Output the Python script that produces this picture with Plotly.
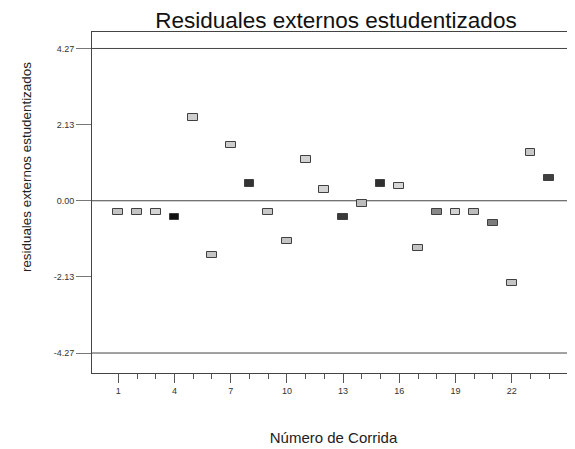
import plotly.graph_objects as go

# Data
runs = list(range(1, 25))
residuals = [-0.31, -0.31, -0.31, -0.46, 2.33, -1.52, 1.57, 0.48, -0.31, -1.13,
             1.16, 0.31, -0.46, -0.08, 0.48, 0.42, -1.33, -0.31, -0.31, -0.31,
             -0.62, -2.30, 1.35, 0.64]
y_tick_vals = [4.27, 2.13, 0.0, -2.13, -4.27]
y_tick_text = ["4.27", "2.13", "0.00", "-2.13", "-4.27"]
x_major_ticks = [1, 4, 7, 10, 13, 16, 19, 22]
x_minor_ticks = list(range(1, 25))
ref_lines = [4.27, 0.0, -4.27]

colors = ["#c4c4c4", "#c4c4c4", "#d4d4d4", "#111111", "#cfcfcf", "#c4c4c4",
          "#cccccc", "#333333", "#c8c8c8", "#c4c4c4", "#d2d2d2", "#d4d4d4",
          "#3a3a3a", "#bcbcbc", "#303030", "#d6d6d6", "#c4c4c4", "#888888",
          "#d2d2d2", "#bcbcbc", "#7c7c7c", "#c4c4c4", "#c8c8c8", "#404040"]

box_h = 0.18
fig = go.Figure()
fig.add_trace(go.Bar(
    x=runs,
    y=[box_h] * len(runs),
    base=[r - box_h / 2 for r in residuals],
    width=0.52,
    marker=dict(color=colors, line=dict(color="#404040", width=1)),
    hovertext=[f"{r:.2f}" for r in residuals],
    showlegend=False,
))

for v in ref_lines:
    fig.add_hline(y=v, line=dict(color="#444444", width=1), layer="below")

font = "Liberation Sans, Arial, sans-serif"
fig.update_layout(
    width=575, height=449,
    margin=dict(l=84, r=8, t=24, b=84),
    paper_bgcolor="white", plot_bgcolor="white",
    font=dict(family=font, color="#222222"),
    title=dict(text="Residuales externos estudentizados", x=0.505, xref="paper",
               xanchor="center",
               y=1 - 12.5 / 449, yref="container", yanchor="middle",
               font=dict(size=22.5, color="#111111", family=font)),
    bargap=0,
    annotations=[dict(text="residuales externos estudentizados", textangle=-90,
                      xref="paper", yref="paper", x=-0.1366, y=0.604,
                      xanchor="center", yanchor="middle", showarrow=False,
                      font=dict(size=13.4, color="#222222", family=font))],
)
fig.update_xaxes(
    range=[-0.404, 25.38],
    tickmode="array", tickvals=x_major_ticks,
    ticks="outside", ticklen=9, tickcolor="#555555", tickwidth=1,
    minor=dict(tickmode="array", tickvals=x_minor_ticks, ticks="outside",
               ticklen=5, tickcolor="#555555", showgrid=False),
    showline=True, linecolor="#444444", linewidth=1, mirror=True,
    showgrid=False, zeroline=False,
    tickfont=dict(size=9, color="#333333"),
    title=dict(text="Número de Corrida", font=dict(size=15, color="#222222"), standoff=37),
    automargin=False,
)
fig.update_yaxes(
    range=[-4.830, 4.732],
    tickmode="array", tickvals=y_tick_vals, ticktext=y_tick_text,
    ticks="outside", ticklen=15, tickcolor="#777777", tickwidth=1,
    showline=True, linecolor="#444444", linewidth=1,
    showgrid=False, zeroline=False,
    tickfont=dict(size=9, color="#333333"),
    automargin=False,
)

fig.write_html("out.html")
